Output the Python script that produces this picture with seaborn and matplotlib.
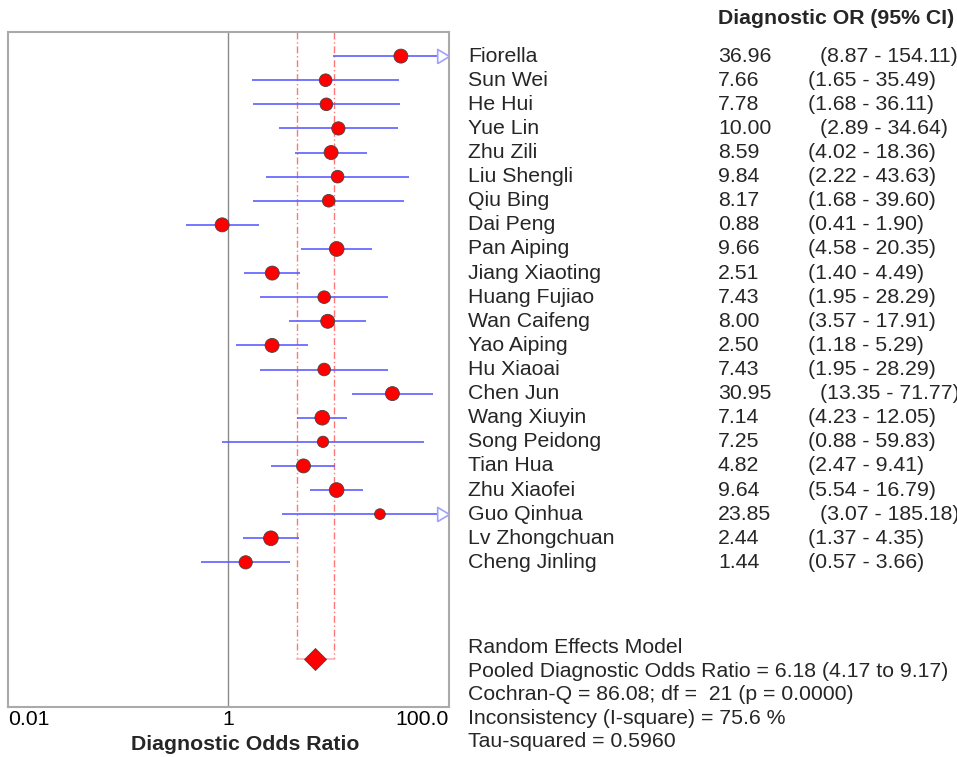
import numpy as np
import pandas as pd
import matplotlib
matplotlib.use('Agg')
import matplotlib.pyplot as plt
import matplotlib.transforms as mtransforms
import seaborn as sns

# Study data
studies = ['Fiorella', 'Sun Wei', 'He Hui', 'Yue Lin', 'Zhu Zili', 'Liu Shengli',
           'Qiu Bing', 'Dai Peng', 'Pan Aiping', 'Jiang Xiaoting', 'Huang Fujiao',
           'Wan Caifeng', 'Yao Aiping', 'Hu Xiaoai', 'Chen Jun', 'Wang Xiuyin',
           'Song Peidong', 'Tian Hua', 'Zhu Xiaofei', 'Guo Qinhua', 'Lv Zhongchuan',
           'Cheng Jinling']
dor = [36.96, 7.66, 7.78, 10.00, 8.59, 9.84, 8.17, 0.88, 9.66, 2.51, 7.43,
       8.00, 2.50, 7.43, 30.95, 7.14, 7.25, 4.82, 9.64, 23.85, 2.44, 1.44]
ci_low = [8.87, 1.65, 1.68, 2.89, 4.02, 2.22, 1.68, 0.41, 4.58, 1.40, 1.95,
          3.57, 1.18, 1.95, 13.35, 4.23, 0.88, 2.47, 5.54, 3.07, 1.37, 0.57]
ci_high = [154.11, 35.49, 36.11, 34.64, 18.36, 43.63, 39.60, 1.90, 20.35, 4.49, 28.29,
           17.91, 5.29, 28.29, 71.77, 12.05, 59.83, 9.41, 16.79, 185.18, 4.35, 3.66]
# relative weight (%)
weight = [4.9, 4.0, 4.0, 4.4, 4.9, 4.0, 4.0, 4.9, 5.4, 4.9, 4.0,
          4.9, 4.9, 4.0, 4.9, 5.4, 3.2, 4.9, 5.4, 2.9, 5.4, 4.4]

# pooled estimate (random effects)
pooled = 6.18
pooled_low = 4.17
pooled_high = 9.17
stats_lines = ['Random Effects Model',
               'Pooled Diagnostic Odds Ratio = 6.18 (4.17 to 9.17)',
               'Cochran-Q = 86.08; df =  21 (p = 0.0000)',
               'Inconsistency (I-square) = 75.6 %',
               'Tau-squared = 0.5960']

x_ticks = [0.01, 1, 100]
x_ticklabels = ['0.01', '1', '100.0']

df = pd.DataFrame({'study': studies, 'dor': dor, 'low': ci_low, 'high': ci_high,
                   'weight': weight})
df['row'] = np.arange(len(df))
xmax = 100
df['high_clip'] = df['high'].clip(upper=xmax)

sns.set_theme(style='white')
plt.rcParams['font.family'] = ['Liberation Sans', 'DejaVu Sans']
fs = 15.3

fig = plt.figure(figsize=(9.57, 7.57), dpi=100)
ax = fig.add_axes([8 / 957, 50 / 757, 440.5 / 957, 675 / 757])

ax.set_xscale('log')
ax.set_xlim(0.01, xmax)
ax.set_ylim(27, -1)

# line of no effect
ax.axvline(1, color='#8a8a8a', lw=1.0, zorder=1)

# pooled CI guides
diamond_row = 25
for v in (pooled_low, pooled_high):
    ax.plot([v, v], [-1, diamond_row], color='#ff7777', lw=1.0, ls=(0, (5, 2, 1, 2)), zorder=1)
ax.plot([pooled_low, pooled_high], [diamond_row, diamond_row], color='#ffb0b0', lw=1.2, zorder=1)

# confidence intervals
ax.hlines(df['row'], df['low'], df['high_clip'], color='#5f5fff', lw=1.2, zorder=2)

# arrows for intervals running off the axis
arrow = [(-1, -0.6), (0, 0), (-1, 0.6), (-1, -0.6)]
off = df[df['high'] > xmax]
ax.plot(off['high_clip'], off['row'], ls='none', marker=arrow, markersize=17,
        markerfacecolor='white', markeredgecolor='#a0a0ff', markeredgewidth=1.2, zorder=3)

# study estimates, area proportional to weight
k = 20.7
sns.scatterplot(data=df, x='dor', y='row', size='weight',
                sizes=(df['weight'].min() * k, df['weight'].max() * k),
                size_norm=(df['weight'].min(), df['weight'].max()),
                color='#ff0000', edgecolor='#444444', linewidth=0.6,
                legend=False, ax=ax, zorder=4)

# pooled diamond
ax.plot([pooled], [diamond_row], marker='D', markersize=11, color='#ff0000',
        markeredgecolor='#444444', markeredgewidth=0.6, ls='none', zorder=5)

ax.set_xticks(x_ticks)
ax.set_xticklabels(x_ticklabels)
ax.minorticks_off()
ax.tick_params(axis='x', length=0, pad=2, labelsize=fs, colors='black')
labels = ax.get_xticklabels()
labels[0].set_ha('left')
labels[-1].set_ha('right')
ax.set_yticks([])
ax.set_xlabel('')
ax.set_ylabel('')
for s in ax.spines.values():
    s.set_color('#aaaaaa')
    s.set_linewidth(1.5)

fig.text(245 / 957, 1 - 745 / 757, 'Diagnostic Odds Ratio', ha='center', va='center',
         fontsize=fs, fontweight='bold')

# right-hand table
tr = mtransforms.blended_transform_factory(fig.transFigure, ax.transData)
ax.text(718 / 957, -1.55, 'Diagnostic OR (95% CI)', transform=tr, ha='left', va='center',
        fontsize=fs, fontweight='bold', clip_on=False)
renderer = fig.canvas.get_renderer()
gap = 49  # pixels between estimate and interval
for _, r in df.iterrows():
    ax.text(468 / 957, r['row'], r['study'], transform=tr, ha='left', va='center',
            fontsize=fs, clip_on=False)
    t = ax.text(718 / 957, r['row'], f"{r['dor']:.2f}", transform=tr, ha='left',
                va='center', fontsize=fs, clip_on=False)
    x_end = t.get_window_extent(renderer).x1
    ax.text((x_end + gap) / 957, r['row'], f"({r['low']:.2f} - {r['high']:.2f})",
            transform=tr, ha='left', va='center', fontsize=fs, clip_on=False)

for i, line in enumerate(stats_lines):
    ax.text(468 / 957, 24.55 + i * 0.975, line, transform=tr, ha='left', va='center',
            fontsize=fs, clip_on=False)

fig.savefig('out.png', dpi=100)
